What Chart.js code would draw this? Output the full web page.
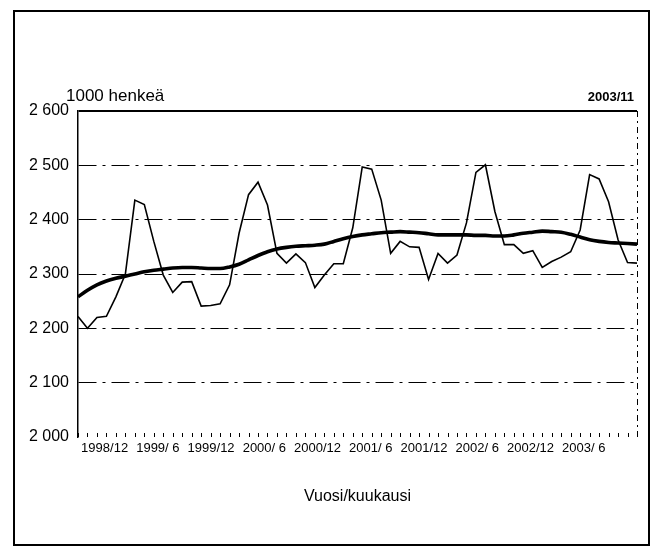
<!DOCTYPE html>
<html>
<head>
<meta charset="utf-8">
<script src="https://cdn.jsdelivr.net/npm/chart.js@4.4.1/dist/chart.umd.min.js"></script>
<style>
  html, body { margin: 0; padding: 0; background: #fff; }
  #wrap { position: relative; width: 658px; height: 551px; }
  #frame { position: absolute; left: 13px; top: 10px; width: 637px; height: 536px; border: 2px solid #000; box-sizing: border-box; pointer-events: none; }
  canvas { position: absolute; left: 0; top: 0; }
</style>
</head>
<body>
<div id="wrap">
  <canvas id="c" width="658" height="551"></canvas>
  <div id="frame"></div>
</div>
<script>
// Categories: monthly, 1998/12 .. 2003/11
const months = [];
for (let y = 1998, m = 12; months.length < 60; ) {
  months.push(y + '/' + m);
  m++; if (m > 12) { m = 1; y++; }
}
// Employed persons, 1000 persons (original series)
const employed = [2222,2200,2220,2222,2258,2300,2436,2428,2360,2298,
                  2266,2285,2286,2241,2242,2245,2280,2375,2446,2469,
                  2427,2338,2320,2337,2321,2275,2298,2319,2319,2385,
                  2497,2493,2436,2338,2360,2350,2349,2290,2338,2320,
                  2335,2394,2487,2501,2415,2354,2354,2338,2343,2312,
                  2323,2331,2341,2381,2483,2475,2433,2363,2321,2320];
// Trend series
const trend = [2258,2270,2280,2287,2292,2296,2300,2304,2307,2309,
               2311,2312,2312,2311,2310,2310,2313,2318,2326,2334,
               2341,2346,2349,2351,2352,2353,2355,2360,2365,2369,
               2372,2374,2376,2377,2378,2377,2376,2374,2372,2372,
               2372,2372,2371,2371,2370,2370,2372,2375,2377,2379,
               2378,2377,2373,2368,2363,2360,2358,2357,2356,2355];
// Tick labels
const xTickLabels = ['1998/12','1999/ 6','1999/12','2000/ 6','2000/12','2001/ 6','2001/12','2002/ 6','2002/12','2003/ 6'];
const yTickValues = [2000,2100,2200,2300,2400,2500,2600];
const yTickLabels = ['2 000','2 100','2 200','2 300','2 400','2 500','2 600'];

const FONT = "'Liberation Sans', Arial, sans-serif";

const framePlugin = {
  id: 'framePlugin',
  afterDraw(chart) {
    const ctx = chart.ctx;
    const a = chart.chartArea;
    const xs = chart.scales.x;
    ctx.save();
    // right dashed border
    ctx.strokeStyle = '#000';
    ctx.lineWidth = 1;
    ctx.setLineDash([6, 4, 2, 4]);
    ctx.beginPath();
    ctx.moveTo(a.right + 0.5, a.top);
    ctx.lineTo(a.right + 0.5, a.bottom);
    ctx.stroke();
    // monthly minor ticks along the bottom
    ctx.setLineDash([]);
    ctx.lineWidth = 1;
    ctx.beginPath();
    for (let i = 0; i < months.length; i++) {
      const x = Math.round(xs.getPixelForValue(i)) + 0.5;
      ctx.moveTo(x, a.bottom - 4);
      ctx.lineTo(x, a.bottom);
    }
    ctx.stroke();
    // header texts
    ctx.fillStyle = '#000';
    ctx.textBaseline = 'alphabetic';
    ctx.font = "17px " + FONT;
    ctx.textAlign = 'left';
    ctx.fillText('1000 henkeä', 66, 101);
    ctx.font = "bold 13px " + FONT;
    ctx.textAlign = 'right';
    ctx.fillText('2003/11', a.right - 3, 101);
    ctx.restore();
  }
};

new Chart(document.getElementById('c'), {
  type: 'line',
  data: {
    labels: months,
    datasets: [
      { label: 'Työlliset', data: employed, borderColor: '#000', borderWidth: 1.6, pointRadius: 0, tension: 0, fill: false },
      { label: 'Trendi', data: trend, borderColor: '#000', borderWidth: 3.6, pointRadius: 0, tension: 0.4, cubicInterpolationMode: 'monotone', fill: false }
    ]
  },
  options: {
    responsive: false,
    animation: false,
    events: [],
    layout: { padding: { left: 0, right: 21, top: 111, bottom: 41 } },
    plugins: { legend: { display: false }, tooltip: { enabled: false } },
    scales: {
      x: {
        type: 'category',
        display: false,
        offset: false
      },
      xl: {
        type: 'linear',
        position: 'bottom',
        min: -0.5,
        max: 10.0,
        grid: { display: false, drawTicks: false },
        border: { display: false },
        afterBuildTicks(scale) { scale.ticks = xTickLabels.map((_, k) => ({ value: k })); },
        ticks: {
          autoSkip: false,
          maxRotation: 0,
          padding: 4,
          color: '#000',
          font: { family: FONT, size: 13 },
          callback: (v) => xTickLabels[v] !== undefined ? xTickLabels[v] : ''
        },
        title: {
          display: true,
          text: 'Vuosi/kuukausi',
          color: '#000',
          font: { family: FONT, size: 16 },
          padding: { top: 0, bottom: 4 }
        },
        afterFit(scale) { scale.height = 73; }
      },
      y: {
        min: 2000,
        max: 2600,
        afterBuildTicks(scale) { scale.ticks = yTickValues.map(v => ({ value: v })); },
        ticks: {
          padding: 9,
          color: '#000',
          font: { family: FONT, size: 16 },
          callback: (v) => yTickLabels[yTickValues.indexOf(v)]
        },
        grid: {
          drawTicks: false,
          lineWidth: (ctx) => ctx.tick && ctx.tick.value === 2600 ? 2 : 1,
          color: (ctx) => ctx.tick && ctx.tick.value === 2000 ? 'rgba(0,0,0,0)' : '#000'
        },
        border: {
          display: true,
          color: '#000',
          width: 1.5,
          dash: (ctx) => ctx.tick && ctx.tick.value === 2600 ? [] : [18, 6, 3, 6]
        },
        afterFit(scale) { scale.width = 78; }
      }
    }
  },
  plugins: [framePlugin]
});
</script>
</body>
</html>
